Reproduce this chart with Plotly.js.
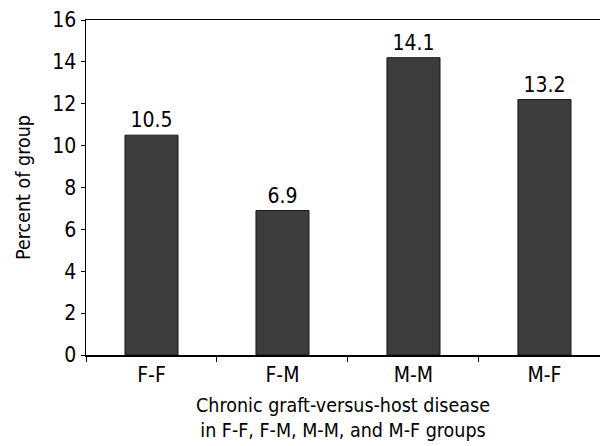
<!DOCTYPE html>
<html>
<head>
<meta charset="utf-8">
<script src="https://cdn.plot.ly/plotly-3.0.1.min.js"></script>
<style>
  html, body { margin: 0; padding: 0; background: #fff; }
  #chart { width: 600px; height: 446px; }
</style>
</head>
<body>
<div id="chart"></div>
<script>
// Data
var categories = ["F-F", "F-M", "M-M", "M-F"];
var barValues = [10.5, 6.9, 14.2, 12.2];          // bar heights as drawn
var barLabels = ["10.5", "6.9", "14.1", "13.2"];  // printed value labels
var yTickValues = [0, 2, 4, 6, 8, 10, 12, 14, 16];

var FONT = "'DejaVu Sans Condensed', 'Liberation Sans Narrow', sans-serif";

var trace = {
  type: "bar",
  x: categories,
  y: barValues,
  text: barLabels,
  textposition: "outside",
  cliponaxis: false,
  textfont: { family: FONT, size: 21, color: "#000" },
  marker: { color: "#3c3c3c", line: { color: "#1a1a1a", width: 1 } },
  hoverinfo: "none"
};

var layout = {
  width: 600,
  height: 446,
  margin: { l: 86, r: 0, t: 20, b: 91, pad: 0 },
  paper_bgcolor: "#fff",
  plot_bgcolor: "#fff",
  font: { family: FONT, size: 21, color: "#000" },
  showlegend: false,
  bargap: 0.595,
  xaxis: {
    type: "category",
    range: [-0.5, 3.424],
    tickson: "boundaries",
    ticks: "outside",
    ticklen: 5,
    tickwidth: 1,
    tickcolor: "#000",
    showline: true,
    linecolor: "#000",
    linewidth: 1.5,
    mirror: true,
    showgrid: false,
    zeroline: false,
    tickfont: { family: FONT, size: 21, color: "#000" },
    title: {
      text: "Chronic graft-versus-host disease<br>in F-F, F-M, M-M, and M-F groups",
      font: { family: FONT, size: 19.5, color: "#000" },
      standoff: 12
    }
  },
  yaxis: {
    range: [0, 16],
    tickvals: yTickValues,
    ticks: "outside",
    ticklen: 4,
    tickwidth: 1,
    tickcolor: "#000",
    showline: true,
    linecolor: "#000",
    linewidth: 1.5,
    mirror: false,
    showgrid: false,
    zeroline: false,
    tickfont: { family: FONT, size: 21, color: "#000" },
    title: {
      text: "Percent of group",
      font: { family: FONT, size: 19.5, color: "#000" },
      standoff: 16
    }
  }
};

Plotly.newPlot("chart", [trace], layout, { staticPlot: true, displayModeBar: false });
</script>
</body>
</html>
